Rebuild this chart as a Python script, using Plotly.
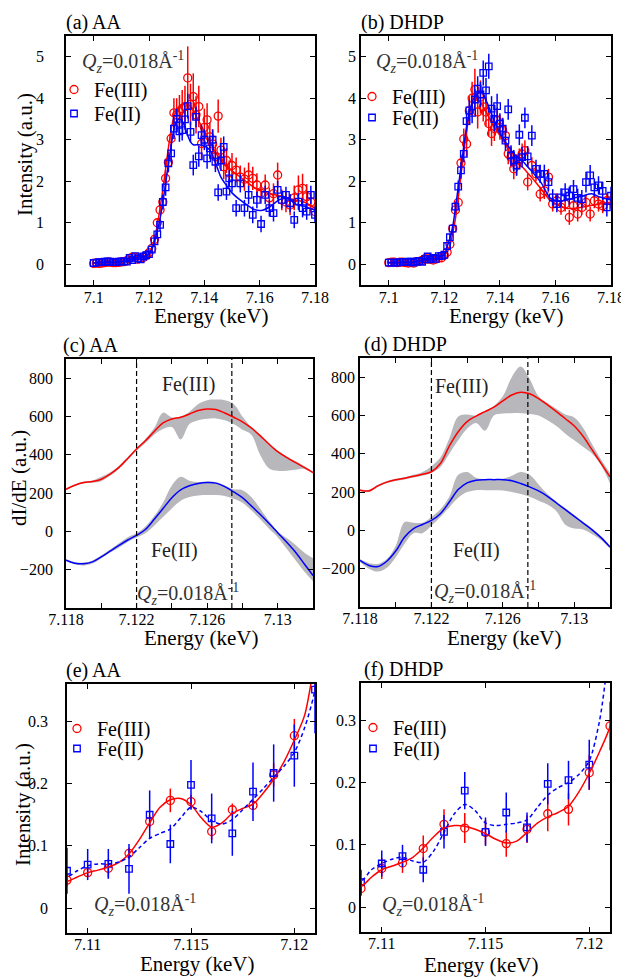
import plotly.graph_objects as go

W, H = 629, 978          # browser window
OFF = 8                  # page body margin
FW, FH = W - OFF, H - OFF
FONT = "Liberation Serif"

# ---------------- data ----------------
E_DATA = [7.100, 7.101, 7.102, 7.103, 7.104, 7.105, 7.106, 7.107, 7.108, 7.109,
          7.110, 7.111, 7.112, 7.113, 7.114, 7.115, 7.116, 7.117, 7.118, 7.119, 7.120, 7.121,
          7.122, 7.123, 7.124, 7.125, 7.126, 7.127, 7.128, 7.129, 7.130, 7.131, 7.132, 7.133,
          7.134, 7.135, 7.136, 7.137, 7.138, 7.139, 7.140, 7.141, 7.142, 7.143, 7.144, 7.145,
          7.146, 7.147, 7.148, 7.149, 7.150,
          7.1515, 7.153, 7.1545, 7.156, 7.1575, 7.159, 7.1605, 7.162, 7.1635, 7.165,
          7.1665, 7.168, 7.1695, 7.171, 7.1725, 7.174, 7.1755, 7.177, 7.1785, 7.180]

AA_FE3 = [0.02, 0.03, 0.02, 0.03, 0.04, 0.05, 0.05, 0.04, 0.04, 0.045,
          0.057, 0.064, 0.088, 0.139, 0.173, 0.171, 0.123, 0.158, 0.165, 0.214, 0.277, 0.38,
          0.60, 1.00, 1.31, 1.50, 2.07, 2.46, 3.03, 3.65, 3.60, 3.68, 3.75, 3.80, 4.49, 3.85,
          4.04, 3.60, 3.80, 2.91, 3.30, 3.48, 3.07, 2.90, 2.59, 3.57, 2.75, 2.35, 2.50, 2.20, 2.38,
          2.27, 2.10, 2.05, 2.15, 2.07, 1.91, 1.71, 1.91, 1.60, 1.70,
          2.15, 1.55, 1.50, 1.43, 1.60, 1.79, 1.83, 1.63, 1.50, 1.27]
AA_FE3_ERR = [0.01, 0.01, 0.01, 0.01, 0.01, 0.01, 0.01, 0.01, 0.01, 0.01,
              0.006, 0.015, 0.009, 0.010, 0.019, 0.011, 0.013, 0.010, 0.007, 0.019, 0.027, 0.040,
              0.08, 0.10, 0.12, 0.15, 0.20, 0.25, 0.30, 0.35, 0.40, 0.40, 0.45, 0.50, 0.76, 0.50,
              0.56, 0.45, 0.50, 0.40, 0.45, 0.40, 0.35, 0.35, 0.30, 0.40, 0.30, 0.30, 0.30, 0.30, 0.30,
              0.30, 0.28, 0.28, 0.30, 0.28, 0.28, 0.25, 0.25, 0.25, 0.25,
              0.30, 0.25, 0.25, 0.25, 0.30, 0.35, 0.35, 0.30, 0.25, 0.20]
AA_FE2 = [0.03, 0.04, 0.05, 0.05, 0.06, 0.07, 0.06, 0.05, 0.05, 0.06,
          0.070, 0.071, 0.063, 0.150, 0.103, 0.198, 0.144, 0.120, 0.187, 0.217, 0.245, 0.351,
          0.55, 0.72, 0.95, 1.50, 1.85, 2.43, 2.67, 3.27, 3.50, 3.20, 3.23, 3.49, 3.81, 3.19,
          2.39, 3.55, 2.60, 3.11, 3.00, 2.55, 2.79, 3.00, 2.47, 1.73, 2.50, 2.83, 1.75, 2.07, 1.95,
          1.35, 1.95, 1.35, 1.67, 1.19, 1.55, 0.97, 1.67, 1.35, 1.23,
          1.79, 1.55, 1.67, 1.47, 1.07, 1.51, 1.35, 1.27, 1.67, 1.19]
AA_FE2_ERR = [0.020, 0.020, 0.025, 0.020, 0.030, 0.030, 0.025, 0.020, 0.030, 0.037,
              0.025, 0.024, 0.040, 0.039, 0.031, 0.040, 0.040, 0.036, 0.047, 0.046, 0.050, 0.070,
              0.10, 0.12, 0.15, 0.18, 0.20, 0.20, 0.22, 0.25, 0.25, 0.25, 0.25, 0.25, 0.30, 0.25,
              0.25, 0.25, 0.25, 0.25, 0.25, 0.25, 0.25, 0.25, 0.25, 0.20, 0.25, 0.25, 0.20, 0.20, 0.20,
              0.20, 0.22, 0.20, 0.22, 0.20, 0.20, 0.20, 0.22, 0.20, 0.20,
              0.22, 0.20, 0.20, 0.22, 0.20, 0.20, 0.22, 0.20, 0.22, 0.20]

DH_FE3 = [0.04, 0.05, 0.05, 0.04, 0.05, 0.05, 0.04, 0.03, 0.04, 0.03,
          0.062, 0.071, 0.094, 0.133, 0.127, 0.120, 0.102, 0.125, 0.150, 0.157, 0.216, 0.291,
          0.48, 0.86, 1.31, 1.49, 2.44, 3.02, 2.90, 3.70, 4.00, 4.21, 3.67, 4.03, 3.79, 3.67,
          3.39, 3.15, 3.27, 3.47, 3.30, 3.23, 3.10, 2.66, 2.58, 2.30, 2.40, 2.54, 2.66, 2.74, 1.98,
          2.38, 2.18, 1.69, 1.77, 2.10, 1.45, 1.53, 1.37, 1.45, 1.13,
          1.41, 1.21, 1.37, 1.49, 1.21, 1.53, 1.45, 1.41, 1.53, 1.53]
DH_FE3_ERR = [0.010, 0.010, 0.010, 0.010, 0.010, 0.010, 0.010, 0.010, 0.010, 0.012,
              0.017, 0.016, 0.021, 0.024, 0.024, 0.020, 0.021, 0.022, 0.028, 0.026, 0.028, 0.039,
              0.06, 0.10, 0.12, 0.15, 0.20, 0.25, 0.30, 0.35, 0.40, 0.50, 0.40, 0.40, 0.35, 0.35,
              0.30, 0.30, 0.30, 0.30, 0.30, 0.30, 0.25, 0.25, 0.25, 0.25, 0.25, 0.25, 0.25, 0.25, 0.20,
              0.20, 0.18, 0.18, 0.20, 0.20, 0.18, 0.18, 0.18, 0.18, 0.18,
              0.18, 0.18, 0.18, 0.18, 0.18, 0.18, 0.18, 0.18, 0.18, 0.18]
DH_FE2 = [0.04, 0.04, 0.04, 0.04, 0.05, 0.05, 0.05, 0.06, 0.06, 0.04,
          0.070, 0.082, 0.060, 0.121, 0.187, 0.121, 0.152, 0.128, 0.198, 0.204, 0.229, 0.440,
          0.65, 0.86, 1.39, 1.87, 2.26, 2.66, 3.45, 3.71, 3.65, 3.97, 4.23, 4.09, 4.61, 4.19,
          4.77, 3.75, 3.50, 3.81, 3.39, 3.27, 2.98, 3.73, 2.62, 2.50, 2.38, 3.12, 2.58, 3.53, 2.60,
          3.10, 2.30, 2.18, 2.18, 1.98, 1.61, 1.45, 1.61, 1.73, 1.65,
          1.81, 1.60, 1.57, 1.98, 2.14, 1.85, 1.90, 1.77, 1.37, 1.65]
DH_FE2_ERR = [0.015, 0.015, 0.015, 0.015, 0.015, 0.015, 0.015, 0.015, 0.015, 0.020,
              0.021, 0.018, 0.020, 0.027, 0.030, 0.023, 0.032, 0.024, 0.033, 0.031, 0.040, 0.050,
              0.08, 0.10, 0.12, 0.15, 0.20, 0.20, 0.25, 0.25, 0.25, 0.25, 0.30, 0.30, 0.30, 0.30,
              0.30, 0.30, 0.30, 0.30, 0.25, 0.25, 0.25, 0.25, 0.25, 0.25, 0.25, 0.25, 0.25, 0.25, 0.25,
              0.25, 0.22, 0.22, 0.22, 0.22, 0.20, 0.20, 0.22, 0.22, 0.22,
              0.22, 0.22, 0.22, 0.25, 0.25, 0.22, 0.22, 0.22, 0.22, 0.22]

# smoothed fit curves
FIT_E = [7.100, 7.102, 7.104, 7.106, 7.108,
         7.109, 7.1095, 7.110, 7.1105, 7.111, 7.1115, 7.112, 7.1125, 7.113, 7.1135, 7.114,
         7.1145, 7.115, 7.1155, 7.116, 7.1165, 7.117, 7.1175, 7.118, 7.1185, 7.119, 7.1195,
         7.120, 7.1205, 7.121,
         7.122, 7.123, 7.124, 7.125, 7.126, 7.127, 7.128, 7.129, 7.130, 7.131, 7.132, 7.133,
         7.134, 7.135, 7.136,
         7.138, 7.140, 7.142, 7.144, 7.146, 7.148, 7.150, 7.152,
         7.155, 7.158, 7.161, 7.164, 7.167, 7.170, 7.173, 7.176,
         7.180]
AA_FIT_FE3 = [0.025, 0.03, 0.035, 0.04, 0.04,
              0.043, 0.05, 0.057, 0.061, 0.066, 0.073, 0.087, 0.11, 0.137, 0.162, 0.174, 0.176,
              0.166, 0.145, 0.13, 0.137, 0.152, 0.16, 0.167, 0.185, 0.207, 0.235, 0.27, 0.31, 0.40,
              0.6, 0.95, 1.35, 1.8, 2.3, 2.8, 3.25, 3.55, 3.7, 3.78, 3.85, 3.88, 3.87, 3.8, 3.7,
              3.45, 3.2, 2.95, 2.7, 2.5, 2.35, 2.25, 2.15,
              2.0, 1.85, 1.75, 1.7, 1.65, 1.6, 1.55, 1.5,
              1.35]
AA_FIT_FE2 = [0.03, 0.04, 0.045, 0.05, 0.048,
              0.05, 0.06, 0.068, 0.071, 0.071, 0.074, 0.082, 0.097, 0.112, 0.12, 0.127, 0.145,
              0.162, 0.155, 0.14, 0.135, 0.142, 0.158, 0.175, 0.192, 0.21, 0.228, 0.25, 0.29, 0.35,
              0.55, 0.8, 1.1, 1.5, 1.95, 2.4, 2.85, 3.25, 3.45, 3.5, 3.45, 3.3, 3.1, 2.95, 2.88,
              2.88, 2.85, 2.75, 2.45, 2.1, 1.9, 1.72, 1.6,
              1.45, 1.32, 1.3, 1.4, 1.55, 1.6, 1.45, 1.4,
              1.3]
DH_FIT_FE3 = [0.03, 0.035, 0.04, 0.035, 0.03,
              0.033, 0.048, 0.06, 0.066, 0.072, 0.08, 0.095, 0.113, 0.127, 0.131, 0.13, 0.125,
              0.118, 0.109, 0.103, 0.106, 0.12, 0.135, 0.145, 0.152, 0.162, 0.185, 0.215, 0.25, 0.29,
              0.45, 0.75, 1.1, 1.6, 2.15, 2.7, 3.2, 3.6, 3.85, 3.95, 3.95, 3.9, 3.8, 3.68, 3.55,
              3.3, 3.1, 2.9, 2.62, 2.45, 2.35, 2.2, 2.05,
              1.8, 1.55, 1.42, 1.35, 1.35, 1.38, 1.42, 1.45,
              1.5]
DH_FIT_FE2 = [0.04, 0.04, 0.045, 0.05, 0.05,
              0.042, 0.06, 0.07, 0.077, 0.08, 0.074, 0.072, 0.09, 0.12, 0.15, 0.165, 0.155,
              0.135, 0.131, 0.133, 0.135, 0.14, 0.16, 0.18, 0.192, 0.2, 0.213, 0.235, 0.3, 0.42,
              0.62, 0.9, 1.35, 1.85, 2.35, 2.85, 3.3, 3.65, 3.9, 4.05, 4.12, 4.15, 4.1, 3.95, 3.8,
              3.45, 3.15, 2.95, 2.75, 2.6, 2.5, 2.35, 2.2,
              1.95, 1.6, 1.52, 1.55, 1.6, 1.65, 1.7, 1.62,
              1.55]

# derivative curves with uncertainty bands
DER_E = [7.118, 7.1185, 7.119, 7.1195, 7.120, 7.1205, 7.121, 7.1215, 7.122, 7.1225,
         7.123, 7.1235, 7.124, 7.1245, 7.125, 7.1255, 7.126, 7.1265, 7.127, 7.1275,
         7.128, 7.1285, 7.129, 7.1295, 7.130, 7.1305, 7.131, 7.1315, 7.132]
AA_D_FE3 = [220, 241, 255, 260, 272, 299, 334, 381, 430, 473, 521, 566, 587, 596, 613,
            631, 639, 636, 618, 596, 572, 540, 500, 456, 416, 386, 360, 334, 307]
AA_D_FE3_HI = [225, 245, 260, 266, 285, 308, 342, 388, 437, 482, 540, 620, 595, 600, 625,
               665, 685, 688, 685, 665, 600, 545, 505, 460, 420, 392, 367, 342, 312]
AA_D_FE3_LO = [215, 237, 250, 254, 262, 290, 326, 374, 421, 462, 505, 535, 545, 480, 560,
               580, 588, 590, 580, 560, 530, 505, 400, 330, 316, 316, 322, 326, 302]
AA_D_FE2 = [-150, -166, -169, -159, -133, -103, -73, -45, -21, 10, 63, 119, 176, 217, 238,
            250, 255, 252, 234, 206, 176, 133, 89, 42, -7, -56, -108, -169, -231]
AA_D_FE2_HI = [-145, -160, -163, -152, -125, -95, -62, -30, -10, 25, 80, 150, 240, 285, 265,
               258, 260, 257, 240, 220, 215, 180, 120, 55, 0, -35, -70, -110, -140]
AA_D_FE2_LO = [-155, -172, -178, -168, -140, -110, -85, -55, -32, -10, 30, 75, 120, 160, 180,
               188, 190, 190, 185, 170, 150, 110, 65, 15, -30, -90, -150, -210, -260]
DH_D_FE3 = [210, 206, 232, 252, 264, 272, 283, 293, 306, 349, 440, 515, 568, 597, 620,
            643, 676, 707, 721, 713, 688, 655, 620, 583, 545, 490, 420, 350, 279]
DH_D_FE3_HI = [215, 212, 238, 258, 270, 278, 290, 305, 335, 380, 480, 595, 605, 600, 625,
               650, 700, 800, 855, 790, 700, 665, 635, 605, 590, 535, 450, 370, 300]
DH_D_FE3_LO = [205, 200, 226, 246, 258, 266, 276, 285, 300, 330, 400, 470, 530, 560, 520,
               600, 610, 612, 612, 608, 600, 575, 545, 505, 470, 435, 400, 340, 245]
DH_D_FE2 = [-157, -183, -189, -161, -108, -35, 9, 31, 52, 87, 148, 213, 248, 262, 265,
            265, 265, 259, 245, 227, 206, 178, 143, 108, 73, 38, 3, -38, -87]
DH_D_FE2_HI = [-150, -170, -175, -150, -80, 44, 40, 40, 70, 110, 175, 290, 305, 275, 268,
               268, 270, 285, 305, 290, 240, 190, 150, 115, 80, 45, 10, -30, -80]
DH_D_FE2_LO = [-165, -200, -215, -195, -140, -70, -15, -15, 25, 70, 120, 170, 200, 210, 210,
               210, 208, 200, 190, 175, 155, 135, 100, 30, 10, 5, -20, -50, -95]

EDGE_LINES = [7.122, 7.1274]

# tick definitions
XT_AB = [7.10, 7.12, 7.14, 7.16, 7.18]
XT_AB_TXT = ["7.1", "7.12", "7.14", "7.16", "7.18"]
YT_AB = [0, 1, 2, 3, 4, 5]
XT_CD = [7.118, 7.122, 7.126, 7.130]
XT_CD_TXT = ["7.118", "7.122", "7.126", "7.13"]
XT_CD_MINOR = [7.120, 7.124, 7.128, 7.132]
YT_CD = [-200, 0, 200, 400, 600, 800]
XT_EF = [7.110, 7.115, 7.120]
XT_EF_TXT = ["7.11", "7.115", "7.12"]
YT_EF = [0, 0.1, 0.2, 0.3]

RED = "rgb(255,0,0)"
BLUE = "rgb(0,0,255)"
GRAY = "rgb(184,184,188)"
QZ = "<i>Q</i><sub><i>z</i></sub>=0.018Å<sup>-1</sup>"


def fx(p):
    return (p - OFF) / FW


def fy(p):
    return 1 - (p - OFF) / FH


# panel boxes in window pixels: left, top, right, bottom
BOX = {
    1: (66, 36, 315, 285),
    2: (361, 36, 611, 285),
    3: (66, 359, 313, 608),
    4: (360, 358, 610, 607),
    5: (67, 684, 315, 933),
    6: (361, 683, 610, 932),
}
XRANGE = {1: [7.09, 7.18], 2: [7.09, 7.18], 3: [7.118, 7.132], 4: [7.118, 7.132],
          5: [7.109, 7.121], 6: [7.109, 7.121]}
YRANGE = {1: [-0.5, 5.5], 2: [-0.5, 5.5], 3: [-400, 900], 4: [-400, 900],
          5: [-0.04, 0.36], 6: [-0.04, 0.36]}
STANDOFF = {1: 17, 2: 0, 3: 8, 4: 0, 5: 14, 6: 0}
XSTANDOFF = {1: -3, 2: -3, 3: -4, 4: -4, 5: -4, 6: -4}

fig = go.Figure()


def ax(i):
    return ("x" if i == 1 else f"x{i}"), ("y" if i == 1 else f"y{i}")


def add_data(i, e, f3, f3e, f2, f2e, leg3, leg2):
    xa, ya = ax(i)
    fig.add_trace(go.Scatter(
        x=e, y=f3, mode="markers", name="Fe(III)", xaxis=xa, yaxis=ya, legend=leg3,
        marker=dict(symbol="circle-open", size=8, color=RED, line=dict(width=1.3, color=RED)),
        error_y=dict(type="data", array=f3e, visible=True, color=RED, thickness=1.5, width=0),
        hoverinfo="skip"))
    fig.add_trace(go.Scatter(
        x=e, y=f2, mode="markers", name="Fe(II)", xaxis=xa, yaxis=ya, legend=leg2,
        marker=dict(symbol="square-open", size=6.5, color=BLUE, line=dict(width=1.3, color=BLUE)),
        error_y=dict(type="data", array=f2e, visible=True, color=BLUE, thickness=1.5, width=0),
        hoverinfo="skip"))


def add_fit(i, e, y, color, dash="solid"):
    xa, ya = ax(i)
    fig.add_trace(go.Scatter(
        x=e, y=y, mode="lines", xaxis=xa, yaxis=ya, showlegend=False, hoverinfo="skip",
        line=dict(color=color, width=1.5, shape="spline", smoothing=0.8, dash=dash)))


def add_band(i, e, lo, hi, mid, color):
    xa, ya = ax(i)
    fig.add_trace(go.Scatter(x=e, y=lo, mode="lines", xaxis=xa, yaxis=ya, showlegend=False,
                             hoverinfo="skip", line=dict(width=0, color=GRAY, shape="spline")))
    fig.add_trace(go.Scatter(x=e, y=hi, mode="lines", xaxis=xa, yaxis=ya, showlegend=False,
                             hoverinfo="skip", fill="tonexty", fillcolor=GRAY,
                             line=dict(width=0, color=GRAY, shape="spline")))
    fig.add_trace(go.Scatter(x=e, y=mid, mode="lines", xaxis=xa, yaxis=ya, showlegend=False,
                             hoverinfo="skip", line=dict(width=1.5, color=color, shape="spline")))


# (a) AA
add_fit(1, FIT_E, AA_FIT_FE3, RED)
add_data(1, E_DATA, AA_FE3, AA_FE3_ERR, AA_FE2, AA_FE2_ERR, "legend", "legend2")
add_fit(1, FIT_E, AA_FIT_FE2, BLUE)
# (b) DHDP
add_fit(2, FIT_E, DH_FIT_FE3, RED)
add_data(2, E_DATA, DH_FE3, DH_FE3_ERR, DH_FE2, DH_FE2_ERR, "legend3", "legend4")
add_fit(2, FIT_E, DH_FIT_FE2, BLUE)
# (c) AA derivative
add_band(3, DER_E, AA_D_FE3_LO, AA_D_FE3_HI, AA_D_FE3, RED)
add_band(3, DER_E, AA_D_FE2_LO, AA_D_FE2_HI, AA_D_FE2, BLUE)
# (d) DHDP derivative
add_band(4, DER_E, DH_D_FE3_LO, DH_D_FE3_HI, DH_D_FE3, RED)
add_band(4, DER_E, DH_D_FE2_LO, DH_D_FE2_HI, DH_D_FE2, BLUE)
# (e) AA pre-edge
add_data(5, E_DATA, AA_FE3, AA_FE3_ERR, AA_FE2, AA_FE2_ERR, "legend5", "legend6")
add_fit(5, FIT_E, AA_FIT_FE3, RED)
add_fit(5, FIT_E, AA_FIT_FE2, BLUE, dash="4px,3px")
# (f) DHDP pre-edge
add_data(6, E_DATA, DH_FE3, DH_FE3_ERR, DH_FE2, DH_FE2_ERR, "legend7", "legend8")
add_fit(6, FIT_E, DH_FIT_FE3, RED)
add_fit(6, FIT_E, DH_FIT_FE2, BLUE, dash="4px,3px")

TICKS = {
    1: (XT_AB, XT_AB_TXT, YT_AB), 2: (XT_AB, XT_AB_TXT, YT_AB),
    3: (XT_CD, XT_CD_TXT, YT_CD), 4: (XT_CD, XT_CD_TXT, YT_CD),
    5: (XT_EF, XT_EF_TXT, YT_EF), 6: (XT_EF, XT_EF_TXT, YT_EF),
}

layout = dict(template="none", width=FW, height=FH, margin=dict(l=0, r=0, t=0, b=0, pad=0),
              paper_bgcolor="white", plot_bgcolor="white", showlegend=True,
              font=dict(family=FONT, size=16, color="black"))
common = dict(showline=True, linecolor="black", linewidth=1.8, mirror="ticks",
              ticks="inside", ticklen=5, tickwidth=1, tickcolor="black",
              showgrid=False, zeroline=False, automargin=False,
              tickfont=dict(family=FONT, size=16, color="black"))
for i, (l, t, r, b) in BOX.items():
    xn = "xaxis" if i == 1 else f"xaxis{i}"
    yn = "yaxis" if i == 1 else f"yaxis{i}"
    xa, ya = ax(i)
    xt, xtt, yt = TICKS[i]
    layout[xn] = dict(common, domain=[fx(l), fx(r)], range=XRANGE[i], anchor=ya,
                      tickmode="array", tickvals=xt, ticktext=xtt,
                      ticklabelstandoff=XSTANDOFF[i])
    if i in (3, 4):
        layout[xn]["minor"] = dict(ticks="inside", ticklen=5, tickwidth=1, tickcolor="black",
                                   tickmode="array", tickvals=XT_CD_MINOR, showgrid=False)
    layout[yn] = dict(common, domain=[fy(b), fy(t)], range=YRANGE[i], anchor=xa,
                      tickmode="array", tickvals=yt, ticklabelstandoff=STANDOFF[i])

leg_common = dict(xanchor="left", yanchor="top", bgcolor="rgba(0,0,0,0)", borderwidth=0,
                  font=dict(family=FONT, size=20, color="black"), itemwidth=30,
                  traceorder="normal", tracegroupgap=0, itemclick=False, itemdoubleclick=False)
# one legend per entry: (left, top) in window pixels
LEG_POS = {"legend": (54, 70), "legend2": (54, 94),
           "legend3": (352, 77), "legend4": (352, 98),
           "legend5": (57, 709), "legend6": (57, 729),
           "legend7": (353, 708), "legend8": (353, 729)}
for name, (lx, ty) in LEG_POS.items():
    layout[name] = dict(leg_common, x=fx(lx), y=fy(ty))

anns = []


def ann(text, px, py, size=20, xanchor="left", angle=0, color="black"):
    anns.append(dict(text=text, x=fx(px), y=fy(py), xref="paper", yref="paper",
                     xanchor=xanchor, yanchor="middle", showarrow=False, textangle=angle,
                     font=dict(family=FONT, size=size, color=color)))


# panel titles
ann("(a) AA", 64, 23)
ann("(b) DHDP", 359, 23)
ann("(c) AA", 61, 345)
ann("(d) DHDP", 362, 344)
ann("(e) AA", 64, 670)
ann("(f) DHDP", 362, 669)
# axis titles
for (cx, cy) in [(211, 316), (506, 316), (201, 638), (504, 638), (197, 964), (481, 965)]:
    ann("Energy (keV)", cx, cy, size=21, xanchor="center")
ann("Intensity (a.u.)", 25, 155, size=21, xanchor="center", angle=-90)
ann("dI/dE (a.u.)", 19, 478, size=21, xanchor="center", angle=-90)
ann("Intensity (a.u.)", 23, 805, size=21, xanchor="center", angle=-90)
# Q_z labels
for (qx, qy) in [(80, 62), (374, 62), (135, 594), (432, 592), (92, 905), (380, 905)]:
    ann(QZ, qx, qy, size=20, color="#333333")
# Fe labels in derivative panels
ann("Fe(III)", 188, 385, xanchor="center", color="#222222")
ann("Fe(II)", 175, 550, xanchor="center", color="#222222")
ann("Fe(III)", 461, 387, xanchor="center", color="#222222")
ann("Fe(II)", 476, 550, xanchor="center", color="#222222")
layout["annotations"] = anns

shapes = []
for i in (3, 4):
    xa, ya = ax(i)
    for xv in EDGE_LINES:
        shapes.append(dict(type="line", xref=xa, yref=f"{ya} domain", x0=xv, x1=xv, y0=0, y1=1,
                           line=dict(color="black", width=1.2, dash="5px,3px")))
layout["shapes"] = shapes

fig.update_layout(**layout)
fig.write_html("out.html")
